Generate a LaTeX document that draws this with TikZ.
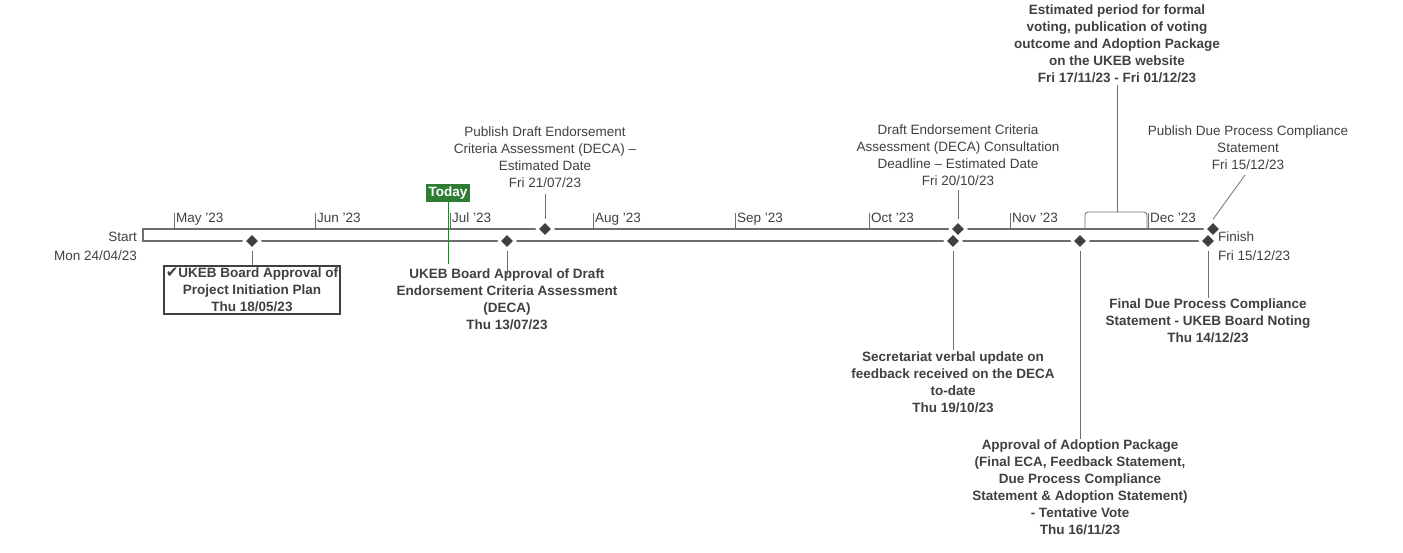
\documentclass[tikz,border=0pt]{standalone}
\usepackage{fontspec}
\setmainfont{Liberation Sans}
\usepackage{tikz}
\usetikzlibrary{positioning,shapes.geometric}
\definecolor{txt}{HTML}{404040}
\definecolor{bar}{HTML}{6E6E6E}
\definecolor{todaygreen}{HTML}{2E7D32}
\tikzset{x=1pt,y=-1pt,
    lbl/.style={text=txt,font=\fontsize{13.5}{17}\selectfont,align=center,inner sep=0},
    blbl/.style={lbl,font=\fontsize{13.5}{17}\selectfont\bfseries},
    milestone/.style={diamond,fill=txt,draw=white,line width=2.5pt,inner sep=0,minimum size=17pt},
    leader/.style={draw=bar,line width=0.8pt},
    tick/.style={draw=bar,line width=0.8pt}
}
\begin{document}
\begin{tikzpicture}
\useasboundingbox (0,0) rectangle (1403,552);

% timeline bar
\draw [bar,line width=1.2pt] (1210,229) -- (143,229) -- (143,241) -- (1210,241);

% months
\foreach \x/\m in {174/May,315/Jun,450/Jul,593/Aug,735/Sep,869/Oct,1010/Nov,1148/Dec}
{
    \draw [tick] (\x,229) -- (\x,213);
    \node [lbl,anchor=base west] at (\x+2,222) {\m\ '23};
}

% start and finish
\node [lbl,anchor=east] (start) at (137,237) {Start};
\node [lbl,anchor=east] (startdate) at (137,256) {Mon 24/04/23};
\node [lbl,anchor=west] (finish) at (1218,237) {Finish};
\node [lbl,anchor=west] (finishdate) at (1218,256) {Fri 15/12/23};

% milestones above
\node [milestone] (pubDraft) at (545,229) {};
\node [milestone] (deadline) at (958,229) {};
\node [milestone] (pubDue) at (1213,229) {};

% milestones below
\node [milestone] (appPlan) at (252,241) {};
\node [milestone] (appDeca) at (507,241) {};
\node [milestone] (update) at (953,241) {};
\node [milestone] (adoption) at (1080,241) {};
\node [milestone] (noting) at (1208,241) {};

% today
\node [fill=todaygreen,text=white,font=\fontsize{13.5}{15}\selectfont\bfseries,inner sep=3pt] (today) at (448,193) {Today};
\draw [todaygreen,line width=1pt] (today.south) -- (448,264);

% labels above
\node [lbl,anchor=north] (pubDraftLbl) at (545,127) {Publish Draft Endorsement\\Criteria Assessment (DECA) --\\Estimated Date\\Fri 21/07/23};
\draw [leader] (pubDraftLbl.south) ++(0,6) -- (pubDraft.north);
\node [lbl,anchor=north] (deadlineLbl) at (958,125) {Draft Endorsement Criteria\\Assessment (DECA) Consultation\\Deadline -- Estimated Date\\Fri 20/10/23};
\draw [leader] (deadlineLbl.south) ++(0,4) -- (deadline.north);
\node [blbl,anchor=north] (votingLbl) at (1117,5) {Estimated period for formal\\voting, publication of voting\\outcome and Adoption Package\\on the UKEB website\\Fri 17/11/23 - Fri 01/12/23};
\draw [leader,rounded corners=3pt] (1085,229) -- (1085,212) -- (1147,212) -- (1147,229);
\draw [leader] (votingLbl.south) ++(0,2) -- (1117,212);
\node [lbl,anchor=north] (pubDueLbl) at (1248,126) {Publish Due Process Compliance\\Statement\\Fri 15/12/23};
\draw [leader] (1245,175) -- (pubDue.north);

% labels below
\node [blbl,draw=txt,line width=1.5pt,inner xsep=2pt,inner ysep=2pt,anchor=north] (appPlanLbl) at (252,265) {{\fontspec{DejaVu Sans}\fontsize{15}{17}\selectfont✔}UKEB Board Approval of\\Project Initiation Plan\\Thu 18/05/23};
\draw [leader] (appPlan.south) -- (appPlanLbl.north);
\node [blbl,anchor=north] (appDecaLbl) at (507,269) {UKEB Board Approval of Draft\\Endorsement Criteria Assessment\\(DECA)\\Thu 13/07/23};
\draw [leader] (appDeca.south) -- ++(0,24);
\node [blbl,anchor=north] (updateLbl) at (953,352) {Secretariat verbal update on\\feedback received on the DECA\\to-date\\Thu 19/10/23};
\draw [leader] (update.south) -- ++(0,99);
\node [blbl,anchor=north] (adoptionLbl) at (1080,440) {Approval of Adoption Package\\(Final ECA, Feedback Statement,\\Due Process Compliance\\Statement \& Adoption Statement)\\- Tentative Vote\\Thu 16/11/23};
\draw [leader] (adoption.south) -- ++(0,188);
\node [blbl,anchor=north] (notingLbl) at (1208,299) {Final Due Process Compliance\\Statement - UKEB Board Noting\\Thu 14/12/23};
\draw [leader] (noting.south) -- ++(0,47);

\end{tikzpicture}
\end{document}
